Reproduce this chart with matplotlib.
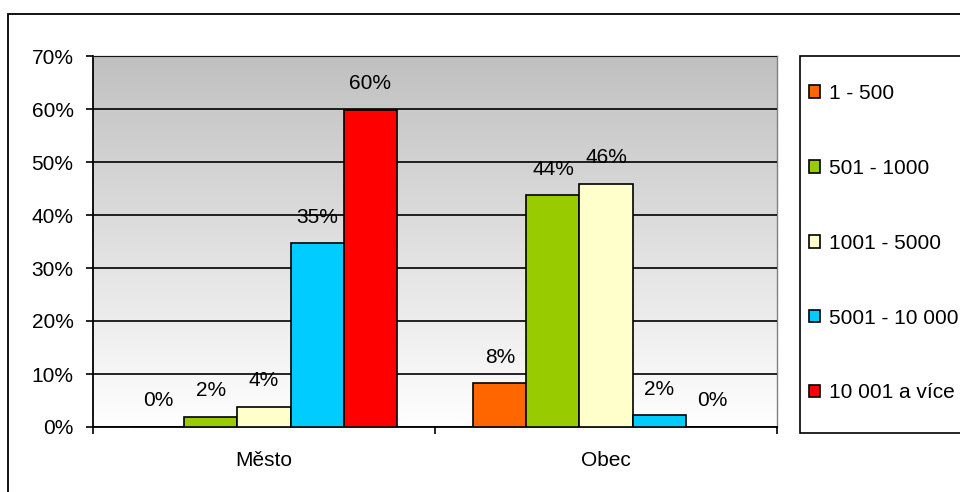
import numpy as np
import matplotlib.pyplot as plt
from matplotlib.patches import Rectangle
from matplotlib.colors import LinearSegmentedColormap

plt.rcParams['font.family'] = ['Liberation Sans', 'DejaVu Sans']

# Data (shares per settlement size)
categories = ['Město', 'Obec']
series = ['1 - 500', '501 - 1000', '1001 - 5000', '5001 - 10 000', '10 001 a více']
values = {
    '1 - 500':       [0.000, 0.083],
    '501 - 1000':    [0.019, 0.437],
    '1001 - 5000':   [0.038, 0.459],
    '5001 - 10 000': [0.347, 0.022],
    '10 001 a více': [0.599, 0.000],
}
colors = ['#FF6600', '#99CC00', '#FFFFCC', '#00CCFF', '#FF0000']
yticks = [0, 0.1, 0.2, 0.3, 0.4, 0.5, 0.6, 0.7]

fig = plt.figure(figsize=(9.6, 4.92), dpi=100)
ax = fig.add_axes([93/960, 1-427/492, 684/960, 371/492])

# outer chart border (runs past right and bottom edge)
fig.patches.append(Rectangle((8/960, -0.2), 1.2, 1.2 - 14/492,
                             transform=fig.transFigure, fill=False,
                             edgecolor='black', linewidth=1.3))
# legend box (also runs past the right edge)
fig.patches.append(Rectangle((800/960, 1-433/492), 0.3, 377/492,
                             transform=fig.transFigure, facecolor='white',
                             edgecolor='black', linewidth=1.2))

# gradient plot area background
grad = np.linspace(0, 1, 256).reshape(-1, 1)
ax.imshow(grad, cmap=LinearSegmentedColormap.from_list('g', ['#ffffff', '#c0c0c0']),
          origin='lower', aspect='auto', extent=[0, 1, 0, 1],
          transform=ax.transAxes, zorder=0)

x = np.arange(len(categories))
w = 0.155
for i, (name, c) in enumerate(zip(series, colors)):
    pos = x + (i - 2) * w
    ax.bar(pos, values[name], width=w, color=c, edgecolor='black',
           linewidth=1.2, label=name, zorder=3)
    for px, v in zip(pos, values[name]):
        ax.annotate(f'{v*100:.0f}%', (px, v), xytext=(0, 26),
                    textcoords='offset pixels', ha='center', va='center',
                    fontsize=15, zorder=1.5)

ax.set_xlim(-0.5, 1.5)
ax.set_ylim(0, 0.7)
ax.set_yticks(yticks)
ax.set_yticklabels([f'{t*100:.0f}%' for t in yticks], fontsize=15)
ax.set_xticks(x)
ax.set_xticklabels(categories, fontsize=15)
ax.set_xticks([-0.5, 0.5, 1.5], minor=True)
ax.tick_params(axis='x', which='major', length=0, pad=17)
ax.tick_params(axis='x', which='minor', length=5, width=1.2, direction='out')
ax.tick_params(axis='y', length=5, width=1.2, pad=9)
ax.yaxis.grid(True, color='black', linewidth=1.2)
ax.set_axisbelow(False)
for gl in ax.get_ygridlines():
    gl.set_zorder(2)
for s in ['left', 'bottom']:
    ax.spines[s].set_color('black')
    ax.spines[s].set_linewidth(1.3)
for s in ['top', 'right']:
    ax.spines[s].set_color('#808080')
    ax.spines[s].set_linewidth(1.0)

leg = fig.legend(loc='upper left', bbox_to_anchor=(809/960, 1-84/492),
                 borderaxespad=0, borderpad=0, fontsize=15, handlelength=0.55,
                 handleheight=0.55, handletextpad=0.4, labelspacing=2.68,
                 frameon=False)

fig.savefig('out.png', dpi=100)
